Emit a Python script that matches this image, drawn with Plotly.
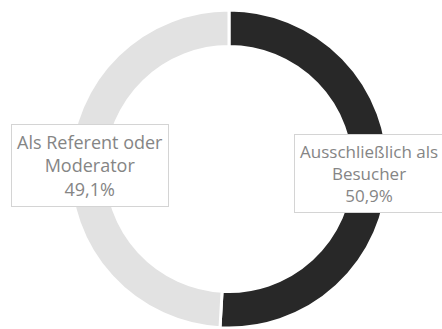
import plotly.graph_objects as go

labels = ["Ausschließlich als Besucher", "Als Referent oder Moderator"]
label_lines = [["Ausschließlich als", "Besucher"], ["Als Referent oder", "Moderator"]]
values = [50.9, 49.1]
colors = ["#282828", "#e2e2e2"]

W, H = 442, 329

fig = go.Figure(go.Pie(
    labels=labels,
    values=values,
    hole=0.77,
    sort=False,
    direction="clockwise",
    rotation=0,
    marker=dict(colors=colors, line=dict(color="white", width=3)),
    textinfo="none",
    hoverinfo="label+percent",
    domain=dict(x=[70 / W, 388 / W], y=[1 - 328 / H, 1 - 10 / H]),
    showlegend=False,
))

def label_text(i):
    pct = f"{values[i]:.1f}".replace(".", ",") + "%"
    return "<br>".join(label_lines[i] + [pct])

# label boxes: centre in pixels and font size
boxes = [(369, 173, 17), (90, 165, 18)]
for i, (px, py, fs) in enumerate(boxes):
    fig.add_annotation(
        x=px / W, y=1 - py / H, xref="paper", yref="paper",
        text=label_text(i),
        showarrow=False,
        font=dict(family="Open Sans", size=fs, color="#858585"),
        align="center",
        bgcolor="white",
        bordercolor="#d4d4d4",
        borderwidth=1,
        borderpad=5,
        xanchor="center", yanchor="middle",
    )

fig.update_layout(
    width=W, height=H,
    margin=dict(l=0, r=0, t=0, b=0),
    paper_bgcolor="white",
    plot_bgcolor="white",
)

fig.write_html("out.html")
